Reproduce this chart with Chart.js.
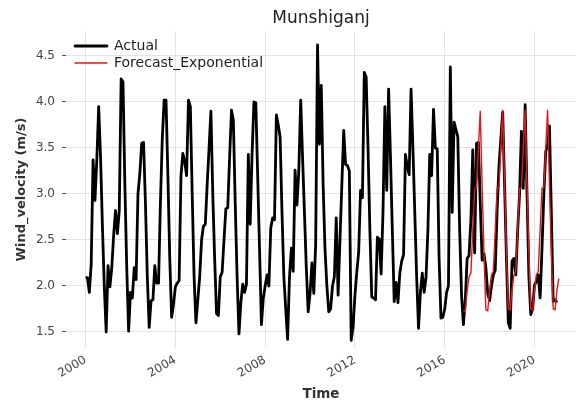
<!DOCTYPE html>
<html>
<head>
<meta charset="utf-8">
<title>Munshiganj</title>
<script src="https://cdn.jsdelivr.net/npm/chart.js@4.4.1/dist/chart.umd.min.js"></script>
<style>
  html, body { margin: 0; padding: 0; background: #fff; }
</style>
</head>
<body>
<canvas id="windChart" width="576" height="405"></canvas>
<script>
// monthly wind velocity (m/s), Jan 2000 .. Jan 2021
const actualWind = [
  2.09, 2.09, 1.93, 2.24, 3.37, 2.93, 3.37, 3.95, 3.40, 2.65, 2.00, 1.50, // 2000
  2.22, 1.99, 2.20, 2.55, 2.82, 2.57, 2.82, 4.25, 4.22, 3.10, 2.20, 1.51, // 2001
  1.93, 1.87, 2.20, 2.07, 3.00, 3.22, 3.55, 3.56, 2.90, 2.10, 1.55, 1.84, // 2002
  1.85, 2.22, 2.03, 2.03, 2.90, 3.60, 4.02, 4.02, 3.20, 2.30, 1.66, 1.80, // 2003
  1.99, 2.03, 2.06, 3.20, 3.44, 3.35, 3.20, 4.02, 3.95, 3.00, 2.10, 1.60, // 2004
  1.85, 2.10, 2.50, 2.65, 2.67, 3.10, 3.50, 3.90, 3.00, 2.30, 1.70, 1.68, // 2005
  2.10, 2.15, 2.50, 2.84, 2.85, 3.40, 3.91, 3.80, 2.90, 2.10, 1.48, 1.82, // 2006
  2.02, 1.93, 2.02, 3.43, 2.67, 3.43, 4.00, 3.99, 3.20, 2.40, 1.58, 1.87, // 2007
  2.00, 2.12, 2.00, 2.63, 2.74, 2.72, 3.86, 3.75, 3.62, 2.80, 2.10, 1.75, // 2008
  1.42, 2.09, 2.41, 2.16, 3.26, 2.88, 3.26, 4.02, 3.40, 2.80, 2.20, 1.72, // 2009
  1.92, 2.25, 1.92, 2.45, 4.62, 3.54, 4.18, 3.10, 2.40, 2.00, 1.72, 1.75, // 2010
  2.00, 2.10, 2.74, 1.90, 2.50, 3.10, 3.69, 3.32, 3.31, 3.25, 1.41, 1.55, // 2011
  1.90, 2.15, 2.37, 3.04, 2.96, 4.32, 4.27, 3.50, 2.60, 1.88, 1.87, 1.85, // 2012
  2.53, 2.51, 2.13, 2.80, 3.95, 3.04, 4.14, 3.40, 2.60, 1.83, 2.04, 1.82, // 2013
  2.14, 2.27, 2.34, 3.43, 3.30, 3.21, 4.14, 3.50, 2.80, 2.10, 1.54, 1.93, // 2014
  2.14, 1.93, 2.09, 2.60, 3.43, 3.20, 3.92, 3.50, 3.49, 2.30, 1.65, 1.66, // 2015
  1.75, 1.93, 2.00, 4.38, 2.80, 3.78, 3.70, 3.62, 2.60, 1.90, 1.58, 1.85, // 2016
  2.30, 2.33, 2.72, 3.48, 2.36, 3.55, 3.56, 2.90, 2.28, 2.35, 2.20, 1.92, // 2017
  1.84, 2.00, 2.12, 2.17, 2.81, 3.30, 3.60, 3.89, 3.10, 2.30, 1.60, 1.54, // 2018
  2.27, 2.30, 2.12, 2.60, 3.00, 3.68, 3.06, 3.97, 3.00, 2.10, 1.69, 1.75, // 2019
  2.01, 2.05, 2.12, 1.87, 2.40, 3.00, 3.46, 3.53, 3.74, 2.80, 1.83, 1.85, // 2020
  1.82                                                                    // 2021
];

// exponential smoothing forecast, Nov 2016 .. Feb 2021
const forecastWind = [
  1.74, 1.72,                                                             // 2016
  1.95, 2.10, 2.14, 2.60, 3.05, 3.07, 3.50, 3.90, 3.10, 2.35, 1.74, 1.73, // 2017
  1.96, 2.12, 2.16, 2.60, 3.06, 3.07, 3.50, 3.91, 3.10, 2.36, 1.75, 1.74, // 2018
  1.96, 2.12, 2.16, 2.60, 3.06, 3.07, 3.50, 3.91, 3.10, 2.36, 1.75, 1.74, // 2019
  1.96, 2.12, 2.16, 2.60, 3.06, 3.07, 3.50, 3.91, 3.10, 2.36, 1.75, 1.74, // 2020
  1.96, 2.08                                                              // 2021
];

const actualStart = { year: 2000, month: 0 };
const forecastStart = { year: 2016, month: 10 };

const xTicks = [2000, 2004, 2008, 2012, 2016, 2020];
const yTicks = [1.5, 2.0, 2.5, 3.0, 3.5, 4.0, 4.5];

const FONT = "'DejaVu Sans', sans-serif";
Chart.defaults.font.family = FONT;

// month index -> fractional year on the x axis
function toPoints(values, start) {
  return values.map((v, i) => ({ x: start.year + (start.month + i) / 12, y: v }));
}

// pin the legend box to the upper-left corner of the plot area
const legendInside = {
  id: 'legendInside',
  afterLayout(chart) {
    const lg = chart.legend;
    if (!lg) return;
    lg.left = chart.chartArea.left + 6;
    lg.top = chart.chartArea.top + 5;
  }
};

new Chart(document.getElementById('windChart'), {
  type: 'line',
  data: {
    datasets: [
      {
        label: 'Actual',
        data: toPoints(actualWind, actualStart),
        borderColor: '#000',
        backgroundColor: '#000',
        borderWidth: 2.8,
        borderJoinStyle: 'round',
        pointRadius: 0,
        order: 1
      },
      {
        label: 'Forecast_Exponential',
        data: toPoints(forecastWind, forecastStart),
        borderColor: 'rgb(222, 24, 24)',
        backgroundColor: 'rgb(222, 24, 24)',
        borderWidth: 1.4,
        borderJoinStyle: 'round',
        pointRadius: 0,
        order: 0
      }
    ]
  },
  options: {
    responsive: false,
    animation: false,
    events: [],
    layout: { padding: 0 },
    plugins: {
      title: {
        display: true,
        text: 'Munshiganj',
        fullSize: false,
        color: '#222',
        font: { family: FONT, size: 17, weight: 'normal' },
        padding: { top: 8, bottom: 2.6 }
      },
      legend: {
        position: 'chartArea',
        align: 'start',
        labels: {
          boxWidth: 32,
          boxHeight: 0,
          padding: 3,
          color: '#222',
          font: { family: FONT, size: 14 },
          sort: (a, b) => a.datasetIndex - b.datasetIndex
        }
      },
      tooltip: { enabled: false }
    },
    scales: {
      x: {
        type: 'linear',
        min: 1999.127,
        max: 2021.849,
        afterBuildTicks: (scale) => { scale.ticks = xTicks.map(v => ({ value: v })); },
        afterFit: (scale) => { scale.height = 57; },
        grid: { color: '#e3e3e3', lineWidth: 1, drawTicks: false },
        border: { display: false },
        ticks: {
          autoSkip: false,
          minRotation: 30,
          maxRotation: 30,
          padding: 5,
          color: '#444',
          font: { family: FONT, size: 12 },
          callback: (v) => String(v)
        },
        title: {
          display: true,
          text: 'Time',
          color: '#333',
          font: { family: FONT, size: 13.5, weight: 'bold' },
          padding: { top: 0, bottom: 2 }
        }
      },
      y: {
        min: 1.326,
        max: 4.771,
        afterBuildTicks: (scale) => { scale.ticks = yTicks.map(v => ({ value: v })); },
        afterFit: (scale) => { scale.width = 66; },
        grid: { color: '#e3e3e3', lineWidth: 1, drawTicks: true, tickLength: 4, tickColor: '#555', tickWidth: 1 },
        border: { display: false },
        ticks: {
          padding: 7,
          color: '#444',
          font: { family: FONT, size: 12 },
          callback: (v) => v.toFixed(1)
        },
        title: {
          display: true,
          text: 'Wind_velocity (m/s)',
          color: '#333',
          font: { family: FONT, size: 13, weight: 'bold' },
          padding: { top: 14, bottom: 0 }
        }
      }
    }
  },
  plugins: [legendInside]
});
</script>
</body>
</html>
